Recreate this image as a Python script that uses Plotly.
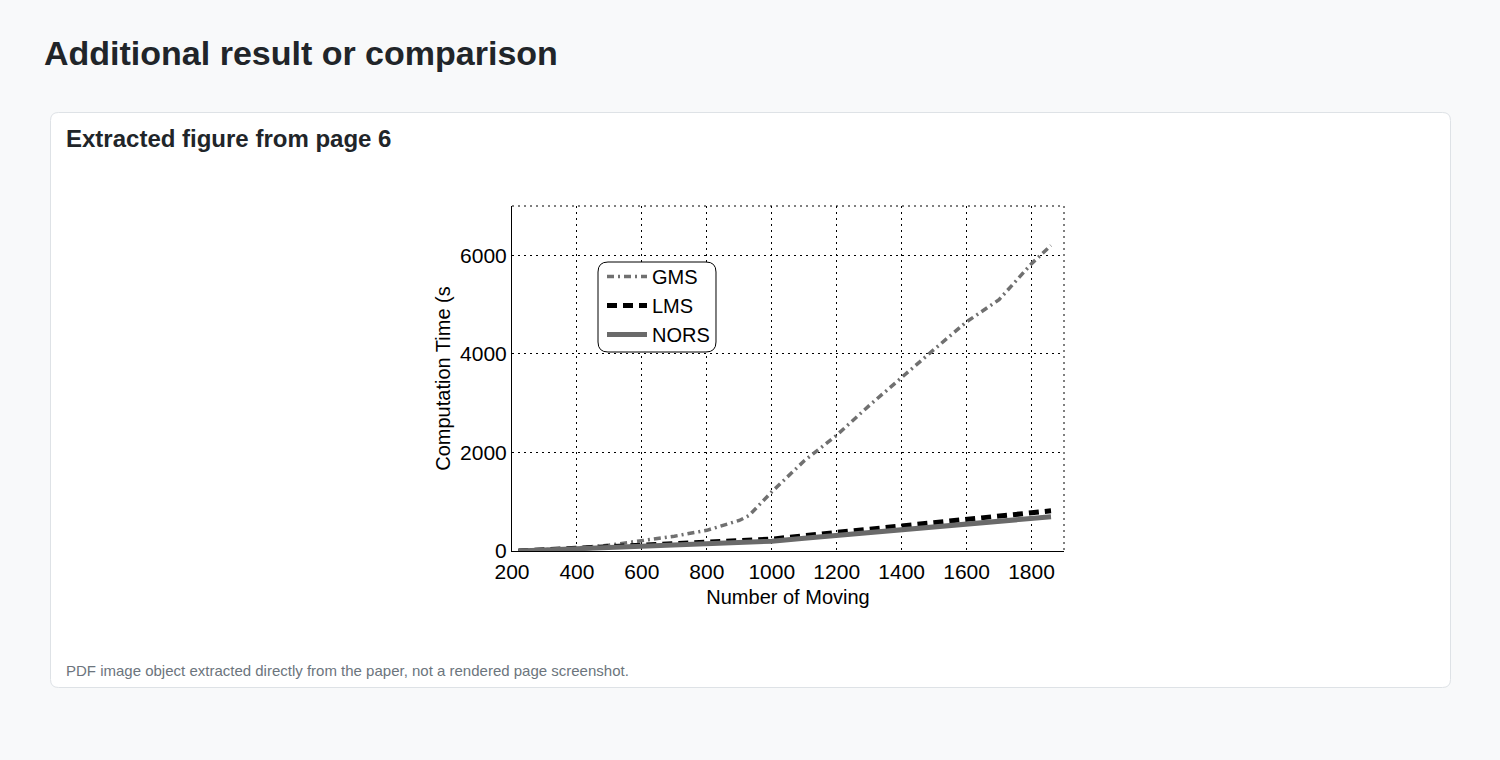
import plotly.graph_objects as go

W, H = 1500, 760

# ---- data ----
x_moving = [220, 300, 400, 500, 600, 700, 800, 900, 930, 1000, 1100, 1200, 1300, 1400, 1500, 1600, 1700, 1800, 1860]
gms = [0, 30, 60, 120, 210, 300, 420, 620, 720, 1200, 1830, 2350, 2950, 3530, 4090, 4650, 5100, 5830, 6200]
lms = [0, 25, 50, 75, 100, 130, 160, 200, 210, 240, 310, 380, 445, 510, 580, 645, 710, 775, 815]
nors = [0, 20, 40, 60, 80, 105, 130, 170, 180, 200, 260, 320, 375, 433, 490, 547, 600, 660, 695]
series_names = ["GMS", "LMS", "NORS"]
x_ticks = [200, 400, 600, 800, 1000, 1200, 1400, 1600, 1800]
y_ticks = [0, 2000, 4000, 6000]


def px_x(p):
    return p / W


def px_y(p):
    return 1 - p / H


def rounded_rect(x0, y0, x1, y1, r):
    X = lambda v: f"{px_x(v):.6f}"
    Y = lambda v: f"{px_y(v):.6f}"
    return (f"M {X(x0 + r)},{Y(y0)} L {X(x1 - r)},{Y(y0)} "
            f"Q {X(x1)},{Y(y0)} {X(x1)},{Y(y0 + r)} L {X(x1)},{Y(y1 - r)} "
            f"Q {X(x1)},{Y(y1)} {X(x1 - r)},{Y(y1)} L {X(x0 + r)},{Y(y1)} "
            f"Q {X(x0)},{Y(y1)} {X(x0)},{Y(y1 - r)} L {X(x0)},{Y(y0 + r)} "
            f"Q {X(x0)},{Y(y0)} {X(x0 + r)},{Y(y0)} Z")


fig = go.Figure()
fig.add_trace(go.Scatter(x=x_moving, y=gms, name=series_names[0], mode="lines", legendgroup="a",
                         line=dict(color="#707070", width=3.5, dash="7px,4px,2px,4px")))
fig.add_trace(go.Scatter(x=x_moving, y=lms, name=series_names[1], mode="lines", legendgroup="b",
                         line=dict(color="#000000", width=5, dash="10px,6px")))
fig.add_trace(go.Scatter(x=x_moving, y=nors, name=series_names[2], mode="lines", legendgroup="c",
                         line=dict(color="#6a6a6a", width=5)))

PL, PR, PT, PB = 512, 1064, 206, 551
font_fig = "Liberation Sans, Arial, sans-serif"
GRID_DASH = "2px,4px"

fig.update_layout(
    width=W, height=H, autosize=False,
    margin=dict(l=0, r=0, t=0, b=0, autoexpand=False),
    paper_bgcolor="#f8f9fa",
    plot_bgcolor="#ffffff",
    showlegend=True,
    legend=dict(x=px_x(602), y=px_y(257), xanchor="left", yanchor="top",
                bgcolor="rgba(0,0,0,0)", borderwidth=0,
                font=dict(family=font_fig, size=20, color="#000000"),
                tracegroupgap=0, itemwidth=40),
    xaxis=dict(domain=[px_x(PL), px_x(PR)], range=[200, 1900], tickvals=x_ticks, automargin=False,
               showgrid=True, gridcolor="#000000", griddash=GRID_DASH, gridwidth=1,
               showline=True, linecolor="#000000", linewidth=1, ticks="", zeroline=False,
               ticklabelstandoff=2,
               tickfont=dict(family=font_fig, size=21, color="#000000"),
               title=dict(text="Number of Moving", font=dict(family=font_fig, size=20, color="#000000"), standoff=7)),
    yaxis=dict(domain=[px_y(PB), px_y(PT)], range=[0, 7000], tickvals=y_ticks, automargin=False,
               showgrid=True, gridcolor="#000000", griddash=GRID_DASH, gridwidth=1,
               showline=True, linecolor="#000000", linewidth=1, ticks="", zeroline=False,
               tickfont=dict(family=font_fig, size=21, color="#000000"),
               title=dict(text="Computation Time (s", font=dict(family=font_fig, size=20, color="#000000"), standoff=4)),
)

shapes = [
    # card
    dict(type="path", xref="paper", yref="paper", layer="below",
         path=rounded_rect(50.5, 112.5, 1450.5, 687.5, 8),
         fillcolor="#ffffff", line=dict(color="#dee2e6", width=1)),
    # dotted top and right frame edges
    dict(type="line", xref="paper", yref="paper", x0=px_x(PL), x1=px_x(PR), y0=px_y(PT), y1=px_y(PT),
         line=dict(color="#000000", width=1, dash=GRID_DASH)),
    dict(type="line", xref="paper", yref="paper", x0=px_x(PR), x1=px_x(PR), y0=px_y(PT), y1=px_y(PB),
         line=dict(color="#000000", width=1, dash=GRID_DASH)),
    # legend box
    dict(type="path", xref="paper", yref="paper", layer="above",
         path=rounded_rect(598, 262, 716, 352, 10),
         fillcolor="#ffffff", line=dict(color="#000000", width=1)),
]
fig.update_layout(shapes=shapes)

font_page = "Liberation Sans, Arial, Helvetica, sans-serif"
fig.add_annotation(text="<b>Additional result or comparison</b>", xref="paper", yref="paper",
                   x=px_x(42), y=px_y(53), xanchor="left", yanchor="middle", showarrow=False,
                   font=dict(family=font_page, size=34, color="#212529"))
fig.add_annotation(text="<b>Extracted figure from page 6</b>", xref="paper", yref="paper",
                   x=px_x(64), y=px_y(138), xanchor="left", yanchor="middle", showarrow=False,
                   font=dict(family=font_page, size=24, color="#212529"))
fig.add_annotation(text="PDF image object extracted directly from the paper, not a rendered page screenshot.",
                   xref="paper", yref="paper",
                   x=px_x(64), y=px_y(670), xanchor="left", yanchor="middle", showarrow=False,
                   font=dict(family=font_page, size=15, color="#6c757d"))

fig.write_html("out.html")
